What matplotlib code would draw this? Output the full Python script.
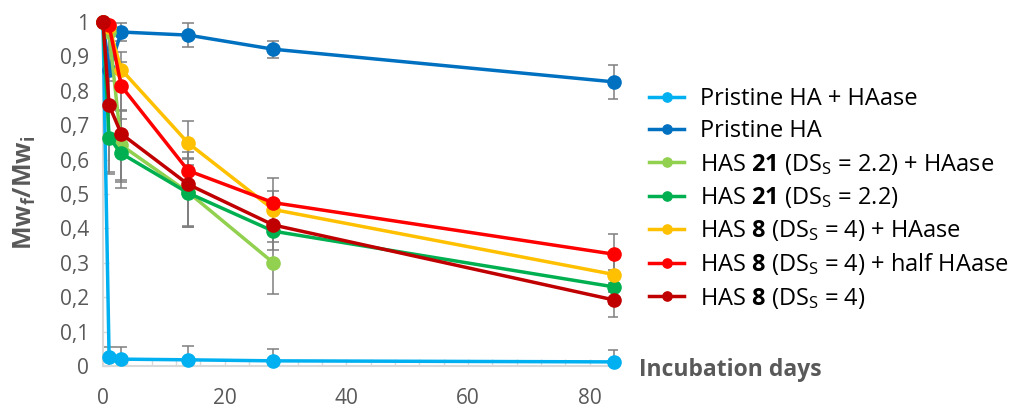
import matplotlib
matplotlib.use("Agg")
import matplotlib.pyplot as plt
from matplotlib.ticker import MultipleLocator

plt.rcParams['font.family'] = ['Open Sans', 'DejaVu Sans']
plt.rcParams['mathtext.fontset'] = 'custom'
plt.rcParams['mathtext.rm'] = 'Open Sans'
plt.rcParams['mathtext.bf'] = 'Open Sans:bold'
plt.rcParams['mathtext.it'] = 'Open Sans:italic'

labels = [
    "Pristine HA + HAase",
    "Pristine HA",
    r"HAS $\mathbf{21}$ (DS$_\mathrm{S}$ = 2.2) + HAase",
    r"HAS $\mathbf{21}$ (DS$_\mathrm{S}$ = 2.2)",
    r"HAS $\mathbf{8}$ (DS$_\mathrm{S}$ = 4) + HAase",
    r"HAS $\mathbf{8}$ (DS$_\mathrm{S}$ = 4) + half HAase",
    r"HAS $\mathbf{8}$ (DS$_\mathrm{S}$ = 4)",
]
colors = ["#00B0F0", "#0070C0", "#92D050", "#00B050", "#FFC000", "#FF0000", "#C00000"]

days_full = [0, 1, 3, 14, 28, 84]
days_short = [0, 1, 3, 14, 28]

ha_haase = [1.0, 0.025, 0.02, 0.018, 0.015, 0.012]
ha = [1.0, 0.86, 0.971, 0.962, 0.921, 0.826]
has21_haase = [1.0, 0.97, 0.642, 0.505, 0.30]
has21 = [1.0, 0.664, 0.618, 0.503, 0.392, 0.230]
has8_haase = [1.0, 0.985, 0.862, 0.648, 0.455, 0.266]
has8_half = [1.0, 0.99, 0.814, 0.568, 0.475, 0.325]
has8 = [1.0, 0.758, 0.675, 0.528, 0.41, 0.192]

err_ha_haase = [0, 0.03, 0.035, 0.04, 0.035, 0.035]
err_ha = [0, 0.03, 0.025, 0.035, 0.025, 0.05]
err_has21_haase = [0, 0.05, 0.1, 0.1, 0.09]
err_has21 = [0, 0.1, 0.1, 0.1, 0.055, 0.05]
err_has8_haase = [0, 0.02, 0.05, 0.065, 0.055, 0.05]
err_has8_half = [0, 0.02, 0.07, 0.055, 0.073, 0.06]
err_has8 = [0, 0.2, 0.14, 0.12, 0.05, 0.05]

series = [
    (days_full, ha_haase, err_ha_haase),
    (days_full, ha, err_ha),
    (days_short, has21_haase, err_has21_haase),
    (days_full, has21, err_has21),
    (days_full, has8_haase, err_has8_haase),
    (days_full, has8_half, err_has8_half),
    (days_full, has8, err_has8),
]

fig = plt.figure(figsize=(10.23, 4.09), dpi=100)
ax = fig.add_axes([0.1007, 0.1051, 0.5025, 0.841])

grey = "#595959"
for i, ((x, y, e), c, lab) in enumerate(zip(series, colors, labels)):
    ax.errorbar(x, y, yerr=e, fmt='none', ecolor='#7f7f7f', elinewidth=1.1,
                capsize=4, capthick=1.1, zorder=2)
for i, ((x, y, e), c, lab) in enumerate(zip(series, colors, labels)):
    ax.plot(x, y, '-o', color=c, lw=2.5, ms=9.5, label=lab, clip_on=False, zorder=3 + i)

ax.set_xlim(0, 84.5)
ax.set_ylim(0, 1)
ax.xaxis.set_major_locator(MultipleLocator(20))
ax.xaxis.set_minor_locator(MultipleLocator(4))
ax.yaxis.set_major_locator(MultipleLocator(0.1))
ax.yaxis.set_major_formatter(plt.FuncFormatter(lambda v, p: ("%g" % round(v, 1)).replace('.', ',')))

for s in ['top', 'right']:
    ax.spines[s].set_visible(False)
for s in ['left', 'bottom']:
    ax.spines[s].set_color('#d9d9d9')
    ax.spines[s].set_linewidth(1.5)
ax.tick_params(axis='both', which='both', direction='in', color='#d9d9d9', width=1,
               labelcolor=grey, labelsize=15)
ax.tick_params(axis='x', which='major', length=5, pad=16)
ax.tick_params(axis='x', which='minor', length=5)
ax.tick_params(axis='y', which='major', length=4, pad=10)

fig.text(0.024, 0.528, r"Mw$_\mathbf{f}$/Mw$_\mathbf{i}$", rotation=90, ha='center', va='center',
         fontsize=18, fontweight='bold', color=grey)
fig.text(0.625, 0.095, "Incubation days", ha='left', va='center', fontsize=16.5,
         fontweight='bold', color=grey)

leg = fig.legend(loc='upper left', bbox_to_anchor=(0.625, 0.81), frameon=False,
                 fontsize=17, handlelength=1.5, handletextpad=0.65, labelspacing=0.35,
                 markerscale=0.7, borderaxespad=0)
for t in leg.get_texts():
    t.set_color('black')

fig.savefig("out.png", dpi=100)
